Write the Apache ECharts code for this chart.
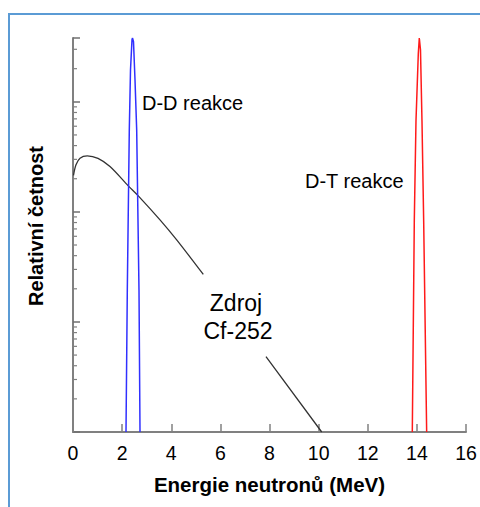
<!DOCTYPE html>
<html>
<head>
<meta charset="utf-8">
<script src="https://cdn.jsdelivr.net/npm/echarts@6/dist/echarts.min.js"></script>
<style>
html,body{margin:0;padding:0;background:#fff;overflow:hidden;width:480px;height:507px;}
#frame{position:absolute;left:8px;top:13px;width:472px;height:494px;border-left:2px solid #5b9bd5;border-top:2px solid #5b9bd5;box-sizing:border-box;}
#chart{position:absolute;left:0;top:0;width:480px;height:507px;}
</style>
</head>
<body>
<div id="frame"></div>
<div id="chart"></div>
<script>
// x: energy (MeV), y: relative frequency (log scale)
const xTicks = [0, 2, 4, 6, 8, 10, 12, 14, 16];
const ddEnergy = [2.158, 2.211, 2.292, 2.341, 2.402, 2.422, 2.463, 2.524, 2.593, 2.687, 2.728];
const ddCount  = [1, 19.5, 556, 1954, 3662, 3800, 3512, 1585, 556, 19.5, 1];
const dtEnergy = [13.814, 13.895, 13.964, 14.058, 14.099, 14.147, 14.208, 14.277, 14.399];
const dtCount  = [1, 82.8, 672, 2730, 3800, 2970, 672, 82.8, 1];
const cfEnergy = [0.02, 0.122, 0.285, 0.582, 1.018, 1.506, 2.251, 2.658, 3.542, 4.222, 5.305, 6.5, 7.857, 10.125];
const cfCount  = [215, 267.5, 307.8, 323, 306, 258, 172.3, 139.8, 84.6, 55.66, 27.0, null, 4.835, 1.0];
const minorTickValues = [2,3,4,5,6,7,8,9,20,30,40,50,60,70,80,90,200,300,400,500,600,700,800,900,2000,3000];
const yMin = 1, yMax = 3800;

const zip = (xs, ys) => xs.map((x, i) => [x, ys[i]]);
const FONT = "'Liberation Sans', Arial, sans-serif";

const chart = echarts.init(document.getElementById('chart'), null, {renderer: 'svg'});
chart.setOption({
  animation: false,
  backgroundColor: 'transparent',
  grid: {left: 73, right: 14, top: 38, bottom: 75, containLabel: false},
  xAxis: {
    type: 'value', min: 0, max: 16, interval: 2,
    name: 'Energie neutronů (MeV)', nameLocation: 'middle', nameGap: 42,
    nameTextStyle: {fontFamily: FONT, fontSize: 20.5, fontWeight: 'bold', color: '#000'},
    axisLine: {show: true, lineStyle: {color: '#808080', width: 2}},
    axisTick: {show: true, inside: true, length: 8, lineStyle: {color: '#808080', width: 1.5}},
    axisLabel: {fontFamily: FONT, fontSize: 19.5, color: '#000', margin: 11},
    splitLine: {show: false}
  },
  yAxis: {
    type: 'log', logBase: 10, min: yMin, max: yMax,
    axisLine: {show: true, lineStyle: {color: '#808080', width: 2}},
    axisTick: {show: true, inside: true, length: 7, lineStyle: {color: '#707070', width: 1.5}},
    axisLabel: {show: false},
    splitLine: {show: false}
  },
  graphic: [
    {type: 'text', x: 36, y: 226, rotation: Math.PI / 2,
     style: {text: 'Relativní četnost', fontFamily: FONT, fontSize: 20, fontWeight: 'bold', fill: '#000', textAlign: 'center', textVerticalAlign: 'middle'}},
    {type: 'text', x: 142, y: 103,
     style: {text: 'D-D reakce', fontFamily: FONT, fontSize: 20, fill: '#000', textAlign: 'left', textVerticalAlign: 'middle'}},
    {type: 'text', x: 305, y: 181,
     style: {text: 'D-T reakce', fontFamily: FONT, fontSize: 20, fill: '#000', textAlign: 'left', textVerticalAlign: 'middle'}},
    {type: 'text', x: 236, y: 303,
     style: {text: 'Zdroj', fontFamily: FONT, fontSize: 23, fill: '#000', textAlign: 'center', textVerticalAlign: 'middle'}},
    {type: 'text', x: 238, y: 331,
     style: {text: 'Cf-252', fontFamily: FONT, fontSize: 23, fill: '#000', textAlign: 'center', textVerticalAlign: 'middle'}}
  ],
  series: [
    {
      type: 'custom', name: 'minor ticks', silent: true,
      data: minorTickValues.map(v => [0, v]),
      renderItem: function (params, api) {
        const p = api.coord([0, api.value(1)]);
        return {type: 'line', shape: {x1: p[0], y1: p[1], x2: p[0] + 4, y2: p[1]},
                style: {stroke: '#808080', lineWidth: 1.2}};
      },
      z: 1
    },
    {
      type: 'line', name: 'Cf-252', data: zip(cfEnergy, cfCount), smooth: 0.3,
      showSymbol: false, connectNulls: false,
      lineStyle: {color: '#333333', width: 1.3}
    },
    {
      type: 'line', name: 'D-D', data: zip(ddEnergy, ddCount), smooth: false,
      showSymbol: false, lineStyle: {color: '#3030ff', width: 1.5}
    },
    {
      type: 'line', name: 'D-T', data: zip(dtEnergy, dtCount), smooth: false,
      showSymbol: false, lineStyle: {color: '#ff1a1a', width: 1.5}
    }
  ]
});
</script>
</body>
</html>
